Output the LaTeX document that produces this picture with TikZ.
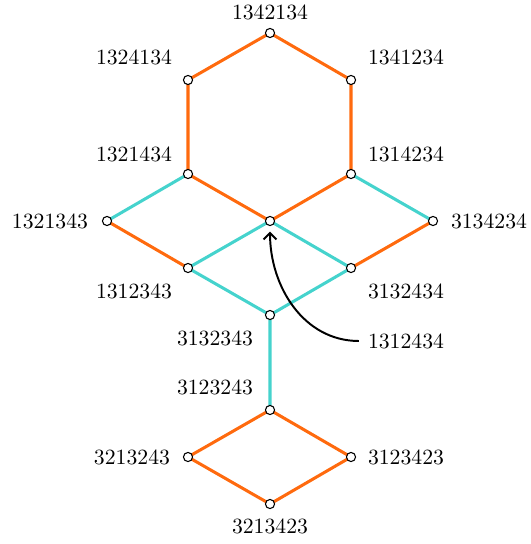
\documentclass[tikz,border=0pt]{standalone}
\usetikzlibrary{arrows.meta}
\definecolor{orng}{HTML}{FF6A0E}
\definecolor{turq}{HTML}{45D3CD}
\begin{document}
\begin{tikzpicture}[x=0.4605pt,y=-0.4605pt,
  vtx/.style={circle,draw=black,fill=white,inner sep=0pt,minimum size=4.2pt,line width=0.5pt},
  lbl/.style={inner sep=0pt,font=\fontsize{10}{12}\selectfont},
  oe/.style={draw=orng,line width=1.4pt},
  ce/.style={draw=turq,line width=1.4pt}]
\useasboundingbox (0,0) rectangle (530,544);
% vertices
\coordinate (a) at (270,33);
\coordinate (b) at (188,80);
\coordinate (c) at (351,80);
\coordinate (d) at (188,174);
\coordinate (e) at (351,174);
\coordinate (f) at (107,221);
\coordinate (g) at (270,221);
\coordinate (h) at (433,221);
\coordinate (i) at (188,268);
\coordinate (j) at (351,268);
\coordinate (k) at (270,315);
\coordinate (l) at (270,410);
\coordinate (m) at (188,457);
\coordinate (n) at (351,457);
\coordinate (o) at (270,504);
% edges
\draw[oe] (a)--(b) (a)--(c) (b)--(d) (c)--(e) (d)--(g) (e)--(g) (f)--(i) (h)--(j)
  (l)--(m) (l)--(n) (m)--(o) (n)--(o);
\draw[ce] (d)--(f) (e)--(h) (g)--(i) (g)--(j) (i)--(k) (j)--(k) (k)--(l);
% vertex circles
\foreach \v in {a,b,c,d,e,f,g,h,i,j,k,l,m,n,o}
  \node[vtx] (v\v) at (\v) {};
% labels
\node[lbl] (la) at (270,12) {1342134};
\node[lbl] (lb) at (134,57) {1324134};
\node[lbl] (lc) at (406,57) {1341234};
\node[lbl] (ld) at (134,154) {1321434};
\node[lbl] (le) at (406,154) {1314234};
\node[lbl] (lf) at (50,221) {1321343};
\node[lbl] (lh) at (489,221) {3134234};
\node[lbl] (li) at (134,291) {1312343};
\node[lbl] (lj) at (406,291) {3132434};
\node[lbl] (lk) at (215,338) {3132343};
\node[lbl] (lg) at (406,341) {1312434};
\node[lbl] (ll) at (215,387) {3123243};
\node[lbl] (lm) at (132,457) {3213243};
\node[lbl] (ln) at (406,457) {3123423};
\node[lbl] (lo) at (270,526) {3213423};
% arrow
\draw[line width=0.9pt,-{Straight Barb[length=3pt,width=6pt]}] ([xshift=-4pt]lg.west) to[out=180,in=-90] ([yshift=-2.5pt]vg.south);
\end{tikzpicture}
\end{document}
